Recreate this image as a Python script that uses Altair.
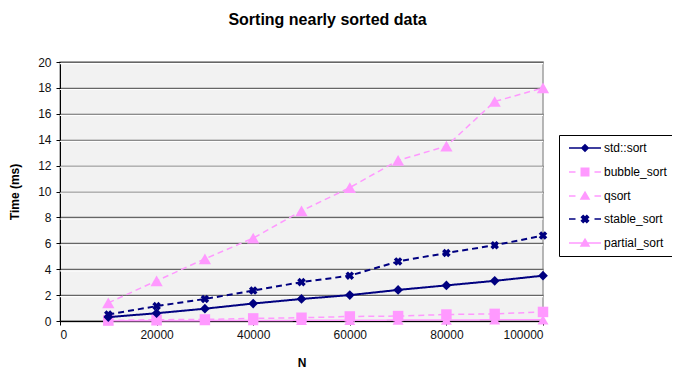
import math
import altair as alt
import pandas as pd

N = [10000, 20000, 30000, 40000, 50000, 60000, 70000, 80000, 90000, 100000]
std_sort = [0.3, 0.6, 0.95, 1.35, 1.7, 2.0, 2.4, 2.75, 3.1, 3.5]
bubble_sort = [0.05, 0.1, 0.12, 0.2, 0.25, 0.35, 0.38, 0.5, 0.55, 0.7]
qsort = [1.4, 3.1, 4.8, 6.4, 8.5, 10.3, 12.4, 13.5, 16.95, 18.0]
stable_sort = [0.5, 1.15, 1.7, 2.35, 3.0, 3.5, 4.6, 5.25, 5.85, 6.6]
partial_sort = [0.01, 0.02, 0.03, 0.04, 0.05, 0.06, 0.07, 0.08, 0.09, 0.1]

series_names = ["std::sort", "bubble_sort", "qsort", "stable_sort", "partial_sort"]
series_values = [std_sort, bubble_sort, qsort, stable_sort, partial_sort]
y_ticks = list(range(0, 21, 2))
x_ticks = [0, 20000, 40000, 60000, 80000, 100000]

rows = []
for name, vals in zip(series_names, series_values):
    for n, v in zip(N, vals):
        rows.append({"N": n, "time": v, "series": name})
df = pd.DataFrame(rows)
grid_df = pd.DataFrame({"time": y_ticks[1:]})

NAVY = "#000080"
PINK = "#ff99ff"
FONT = "Liberation Sans"

styles = {
    "std::sort": dict(color=NAVY, dash=[1, 0], shape="diamond", size=95, angle=0, sw=2),
    "bubble_sort": dict(color=PINK, dash=[6, 4], shape="square", size=110, angle=0, sw=1.5),
    "qsort": dict(color=PINK, dash=[6, 4], shape="triangle-up", size=150, angle=0, sw=1.5),
    "stable_sort": dict(color=NAVY, dash=[6, 4], shape="cross", size=75, angle=45, sw=2),
    "partial_sort": dict(color=PINK, dash=[1, 0], shape="triangle-up", size=120, angle=0, sw=1.5),
}

xscale = alt.Scale(domain=[0, 100000])
yscale = alt.Scale(domain=[0, 20])
xenc = alt.X("N:Q", scale=xscale,
             axis=alt.Axis(values=x_ticks, format="d", title="N", grid=False))
yenc = alt.Y("time:Q", scale=yscale,
             axis=alt.Axis(values=y_ticks, title="Time (ms)", grid=True))

base = alt.Chart(df)
layers = []

# white highlight under each gridline (Excel 3D look)
layers.append(
    alt.Chart(grid_df).mark_rule(color="#ffffff", strokeWidth=1.2, yOffset=1.6).encode(y=yenc)
)

for name in ["partial_sort", "bubble_sort", "std::sort", "stable_sort", "qsort"]:
    s = styles[name]
    line = base.transform_filter(alt.datum.series == name).mark_line(
        color=s["color"], strokeDash=s["dash"], strokeWidth=s["sw"]
    ).encode(x=xenc, y=yenc)
    pts = base.transform_filter(alt.datum.series == name).mark_point(
        color=s["color"], filled=True, opacity=1, shape=s["shape"], size=s["size"], angle=s["angle"]
    ).encode(x=xenc, y=yenc)
    layers += [line, pts]

def poly(pts):
    return "M" + "L".join(f"{x:.3f},{y:.3f}" for x, y in pts) + "Z"

solid = "M-3.2,0H3.2"
dashed = "M-3.2,0H-1.9M1.9,0H3.2"
diamond = poly([(0, -0.65), (0.65, 0), (0, 0.65), (-0.65, 0)])
square = poly([(-0.75, -0.75), (0.75, -0.75), (0.75, 0.75), (-0.75, 0.75)])
tri = poly([(0, -0.75), (0.8, 0.6), (-0.8, 0.6)])
r, w = 0.75, 0.24
plus = [(-w, -r), (w, -r), (w, -w), (r, -w), (r, w), (w, w), (w, r), (-w, r), (-w, w), (-r, w), (-r, -w), (-w, -w)]
xshape = poly([((x - y) / math.sqrt(2), (x + y) / math.sqrt(2)) for x, y in plus])

legend_paths = [solid + diamond, dashed + square, dashed + tri, dashed + xshape, solid + tri]
legend_colors = [NAVY, PINK, PINK, NAVY, PINK]

legend_layer = base.transform_filter(alt.datum.N < 0).mark_point(filled=True, opacity=1).encode(
    x=xenc, y=yenc,
    fill=alt.Fill("series:N", scale=alt.Scale(domain=series_names, range=legend_colors),
                  legend=alt.Legend(title=None)),
    stroke=alt.Stroke("series:N", scale=alt.Scale(domain=series_names, range=legend_colors),
                      legend=alt.Legend(title=None)),
    shape=alt.Shape("series:N", scale=alt.Scale(domain=series_names, range=legend_paths),
                    legend=alt.Legend(title=None)),
)
layers.append(legend_layer)

chart = alt.layer(*layers).properties(
    width=483, height=259,
    autosize=alt.AutoSizeParams(type="none"),
    padding={"left": 52, "top": 54, "right": 129, "bottom": 47},
    title=alt.Title("Sorting nearly sorted data", font=FONT, fontSize=16, fontWeight="bold",
                    color="#000000", anchor="middle", dx=26, offset=28),
).configure_view(
    fill="#f2f2f2", stroke="#a0a0a0", strokeWidth=1.5
).configure_axis(
    labelFont=FONT, labelFontSize=12, labelColor="#111111",
    titleFont=FONT, titleFontSize=12, titleFontWeight="bold", titleColor="#000000",
    domainColor="#000000", tickColor="#000000", gridColor="#666666", gridWidth=1.5,
    tickSize=4,
).configure_axisY(
    titlePadding=16, labelPadding=5
).configure_axisX(
    titlePadding=17, labelPadding=4
).configure_legend(
    orient="none", legendX=499, legendY=73,
    strokeColor="#000000", padding=7, rowPadding=10,
    symbolSize=100, symbolStrokeWidth=1.5, symbolOffset=13, labelOffset=13,
    labelFont=FONT, labelFontSize=12, labelColor="#000000",
    fillColor="#ffffff",
)

chart.save("out.html", embed_options={"renderer": "svg", "actions": False})
